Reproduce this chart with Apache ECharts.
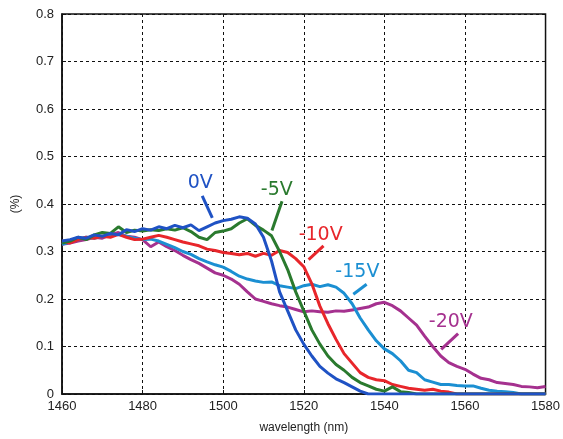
<!DOCTYPE html>
<html>
<head>
<meta charset="utf-8">
<script src="https://cdn.jsdelivr.net/npm/echarts@6/dist/echarts.min.js"></script>
<style>
html, body { margin: 0; padding: 0; background: #fff; }
#main { width: 563px; height: 439px; }
</style>
</head>
<body>
<div id="main"></div>
<script>
// wavelength samples (nm), every 2 nm
var wavelength = [];
for (var w = 1460; w <= 1580; w += 2) wavelength.push(w);

var v0 = [.322,.325,.33,.328,.335,.332,.338,.335,.346,.342,.348,.345,.352,.348,.355,.35,.356,.344,.352,.36,
  .365,.368,.373,.37,.358,.33,.28,.215,.175,.135,.105,.08,.058,.044,.032,.024,.015,.006,0,0,
  0,0,0,0,0,0,0,0,0,0,0,0,0,0,0,0,0,0,0,0,0];
var v5 = [.318,.322,.33,.325,.335,.34,.338,.352,.34,.345,.343,.346,.344,.348,.345,.35,.342,.33,.325,.34,
  .343,.348,.36,.369,.355,.345,.333,.3,.262,.215,.175,.135,.105,.08,.062,.05,.035,.024,.017,.01,
  .006,.015,.005,.003,0,0,0,0,0,0,0,0,0,0,0,0,0,0,0,0,0];
var v10 = [.322,.318,.325,.33,.328,.332,.33,.336,.33,.325,.326,.33,.334,.33,.325,.32,.316,.312,.305,.302,
  .298,.296,.293,.296,.29,.296,.292,.302,.298,.285,.268,.232,.185,.148,.115,.085,.065,.045,.035,.03,
  .028,.02,.016,.012,.01,.008,.01,.006,.004,0,0,0,0,0,0,0,0,0,0,0,0];
var v15 = [.315,.32,.325,.33,.328,.332,.335,.336,.332,.328,.325,.326,.322,.315,.308,.3,.294,.285,.278,.272,
  .267,.258,.248,.242,.238,.235,.236,.228,.225,.222,.228,.231,.226,.23,.225,.212,.19,.16,.135,.112,
  .095,.085,.07,.05,.045,.03,.025,.02,.02,.018,.017,.017,.012,.008,.006,.005,.003,0,0,0,0];
var v20 = [.315,.318,.322,.325,.33,.328,.335,.34,.332,.33,.325,.31,.32,.31,.302,.292,.283,.275,.265,.255,
  .25,.242,.231,.215,.2,.195,.19,.186,.183,.178,.173,.175,.173,.172,.175,.174,.177,.18,.183,.19,
  .193,.186,.175,.16,.145,.122,.1,.08,.066,.058,.052,.042,.033,.03,.024,.022,.02,.016,.015,.013,.016];

var names = ['0V', '-5V', '-10V', '-15V', '-20V'];
var colors = ['#1f52c4', '#2a7a2e', '#e8262b', '#1b8fd2', '#a5318f'];
var values = [v0, v5, v10, v15, v20];

// label position and leader line, in data units [nm, %]
var labelAt = [[1494.3, 0.444], [1513.3, 0.429], [1524.2, 0.335], [1533.3, 0.256], [1556.5, 0.152]];
var leaderFrom = [[1494.8, 0.417], [1514.6, 0.406], [1524.9, 0.312], [1535.6, 0.231], [1558.3, 0.127]];
var leaderTo = [[1497.3, 0.371], [1512.1, 0.344], [1521.2, 0.283], [1532.3, 0.21], [1554.1, 0.094]];

var series = [];
for (var i = 0; i < names.length; i++) {
  var pts = [];
  for (var j = 0; j < wavelength.length; j++) pts.push([wavelength[j], values[i][j]]);
  series.push({
    name: names[i],
    type: 'line',
    data: pts,
    showSymbol: false,
    lineStyle: { color: colors[i], width: 3 },
    itemStyle: { color: colors[i] },
    z: 10 - i,
    markLine: {
      silent: true,
      symbol: 'none',
      label: { show: false },
      lineStyle: { color: colors[i], width: 3, type: 'solid' },
      data: [[{ coord: leaderFrom[i] }, { coord: leaderTo[i] }]]
    }
  });
}

var myChart = echarts.init(document.getElementById('main'));
myChart.setOption({
  animation: false,
  backgroundColor: '#fff',
  grid: {
    left: 62, right: 15, top: 14, bottom: 41,
    show: true, borderColor: '#111', borderWidth: 1.5
  },
  xAxis: {
    type: 'value',
    min: 1460, max: 1580, interval: 20,
    name: 'wavelength (nm)',
    nameLocation: 'middle',
    nameGap: 28,
    nameTextStyle: { fontFamily: 'Liberation Sans', fontSize: 12, color: '#222' },
    axisLine: { lineStyle: { color: '#111', width: 1.5 } },
    axisTick: { inside: true, length: 4, lineStyle: { color: '#111' } },
    axisLabel: {
      fontFamily: 'Liberation Sans', fontSize: 13, color: '#222', margin: 6,
      formatter: function (v) { return String(v); }
    },
    splitLine: { show: true, lineStyle: { color: '#111', type: [3, 3], width: 1 } }
  },
  yAxis: {
    type: 'value',
    min: 0, max: 0.8, interval: 0.1,
    name: '(%)',
    nameLocation: 'middle',
    nameGap: 40,
    nameTextStyle: { fontFamily: 'Liberation Sans', fontSize: 12, color: '#222' },
    axisLine: { show: true, lineStyle: { color: '#111', width: 1.5 } },
    axisTick: { show: true, inside: true, length: 4, lineStyle: { color: '#111' } },
    axisLabel: {
      fontFamily: 'Liberation Sans', fontSize: 13, color: '#222', margin: 8,
      formatter: function (v) { return String(+v.toFixed(1)); }
    },
    splitLine: { show: true, lineStyle: { color: '#111', type: [3, 3], width: 1 } }
  },
  series: series
});

// voltage labels, placed from data coordinates
var texts = [];
for (var k = 0; k < names.length; k++) {
  var p = myChart.convertToPixel({ gridIndex: 0 }, labelAt[k]);
  texts.push({
    type: 'text',
    x: p[0], y: p[1],
    z: 100,
    style: {
      text: names[k],
      fill: colors[k],
      font: '19px "DejaVu Sans"',
      align: 'center',
      verticalAlign: 'middle'
    }
  });
}
myChart.setOption({ graphic: texts });
</script>
</body>
</html>
